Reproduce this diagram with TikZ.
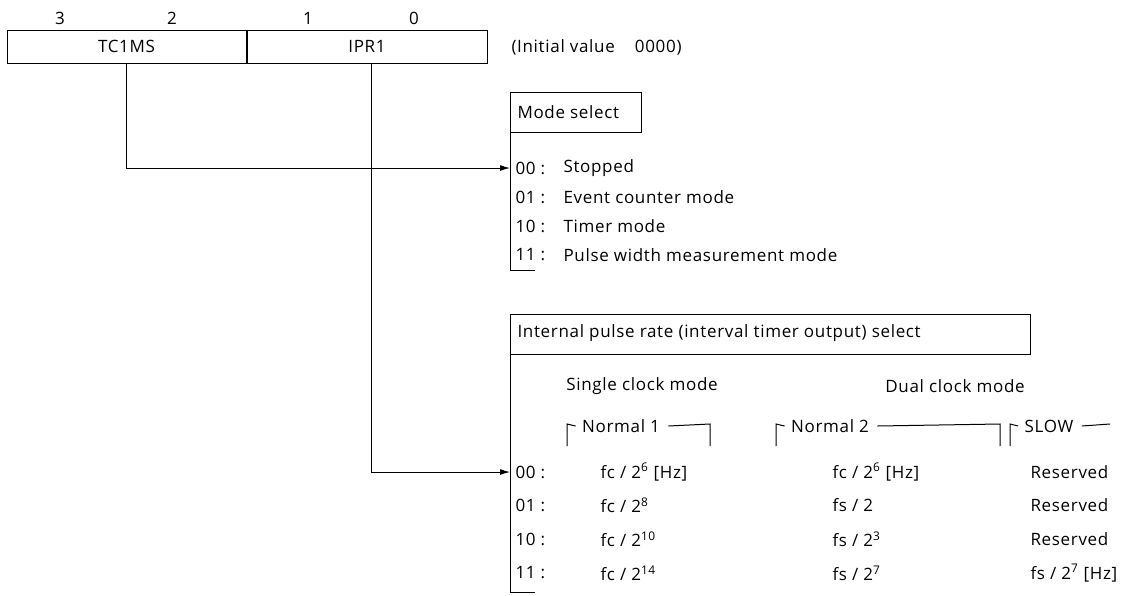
\documentclass[tikz,border=0pt]{standalone}
\usepackage{fontspec}
\setmainfont[LetterSpace=4]{Open Sans}
\usepackage{tikz}
\usetikzlibrary{arrows.meta,positioning}

\begin{document}
\begin{tikzpicture}[
  x=1pt, y=-1pt,
  font=\fontsize{17}{20}\selectfont,
  line width=1pt,
  field/.style={draw, minimum height=33pt, inner sep=0pt},
  txt/.style={anchor=west, inner sep=0pt},
  head/.style={draw, anchor=north west, minimum height=40pt, inner sep=0pt},
  arrow/.style={-{Latex[length=10pt,width=6pt]}}
]
\useasboundingbox (0,0) rectangle (1138,595);
% register
\node[field, minimum width=239pt] (tc1ms) at (126.5,46.5) {TC1MS};
\node[field, minimum width=240pt, right=0pt of tc1ms] (ipr1) {IPR1};
\node at (60,18) (b3) {3};
\node at (172,18) (b2) {2};
\node at (308,18) (b1) {1};
\node at (414,18) (b0) {0};
\node[txt] (init) at (511,47) {(Initial value\hspace{20pt}0000)};
% mode select
\node[head, minimum width=131pt] (modesel) at (510,92) {};
\node[txt] (modettl) at (517,112) {Mode select};
\node[txt] (m00) at (515,168) {00 :};
\node[txt] (m01) at (515,197) {01 :};
\node[txt] (m10) at (515,226) {10 :};
\node[txt] (m11) at (515,255) {11 :};
\node[txt] (t00) at (563,168) {Stopped};
\node[txt] (t01) at (563,197) {Event counter mode};
\node[txt] (t10) at (563,226) {Timer mode};
\node[txt] (t11) at (563,255) {Pulse width measurement mode};
\draw (modesel.south west) -- (modesel.west |- 0,270) -- (535,270);
% internal pulse rate select
\node[head, minimum width=520pt] (ratesel) at (510,314) {};
\node[txt] (ratettl) at (517,333) {Internal pulse rate (interval timer output) select};
\node (single) at (642,386) {Single clock mode};
\node (dual) at (955,386) {Dual clock mode};
\node[inner sep=0pt] (norm1) at (621,426) {Normal 1};
\node[inner sep=0pt] (norm2) at (830,426) {Normal 2};
\node[inner sep=0pt] (slow) at (1049,426) {SLOW};
\draw ([xshift=-6pt]norm1.west) -- (567,424) -- (567,446);
\draw ([xshift=8pt]norm1.east) -- (710,424) -- (710,446);
\draw ([xshift=-6pt]norm2.west) -- (776,424) -- (776,446);
\draw ([xshift=8pt]norm2.east) -- (1000,424) -- (1000,446);
\draw ([xshift=-6pt]slow.west) -- (1010,424) -- (1010,446);
\draw ([xshift=8pt]slow.east) -- (1110,424);
\node[txt] (r00) at (515,472) {00 :};
\node[txt] (r01) at (515,505) {01 :};
\node[txt] (r10) at (515,539) {10 :};
\node[txt] (r11) at (515,573) {11 :};
\node[txt] (s00) at (600,472) {fc / 2\textsuperscript{6} [Hz]};
\node[txt] (s01) at (600,505) {fc / 2\textsuperscript{8}};
\node[txt] (s10) at (600,539) {fc / 2\textsuperscript{10}};
\node[txt] (s11) at (600,573) {fc / 2\textsuperscript{14}};
\node[txt] (n00) at (832,472) {fc / 2\textsuperscript{6} [Hz]};
\node[txt] (n01) at (832,505) {fs / 2};
\node[txt] (n10) at (832,539) {fs / 2\textsuperscript{3}};
\node[txt] (n11) at (832,573) {fs / 2\textsuperscript{7}};
\node[txt] (w00) at (1030,472) {Reserved};
\node[txt] (w01) at (1030,505) {Reserved};
\node[txt] (w10) at (1030,539) {Reserved};
\node[txt] (w11) at (1030,573) {fs / 2\textsuperscript{7} [Hz]};
\draw (ratesel.south west) -- (ratesel.west |- 0,592) -- (535,592);
% connectors
\draw[arrow] (tc1ms.south) |- (modesel.west |- m00.west);
\draw[arrow] ([xshift=4pt]ipr1.south) |- (ratesel.west |- r00.west);
\end{tikzpicture}
\end{document}
